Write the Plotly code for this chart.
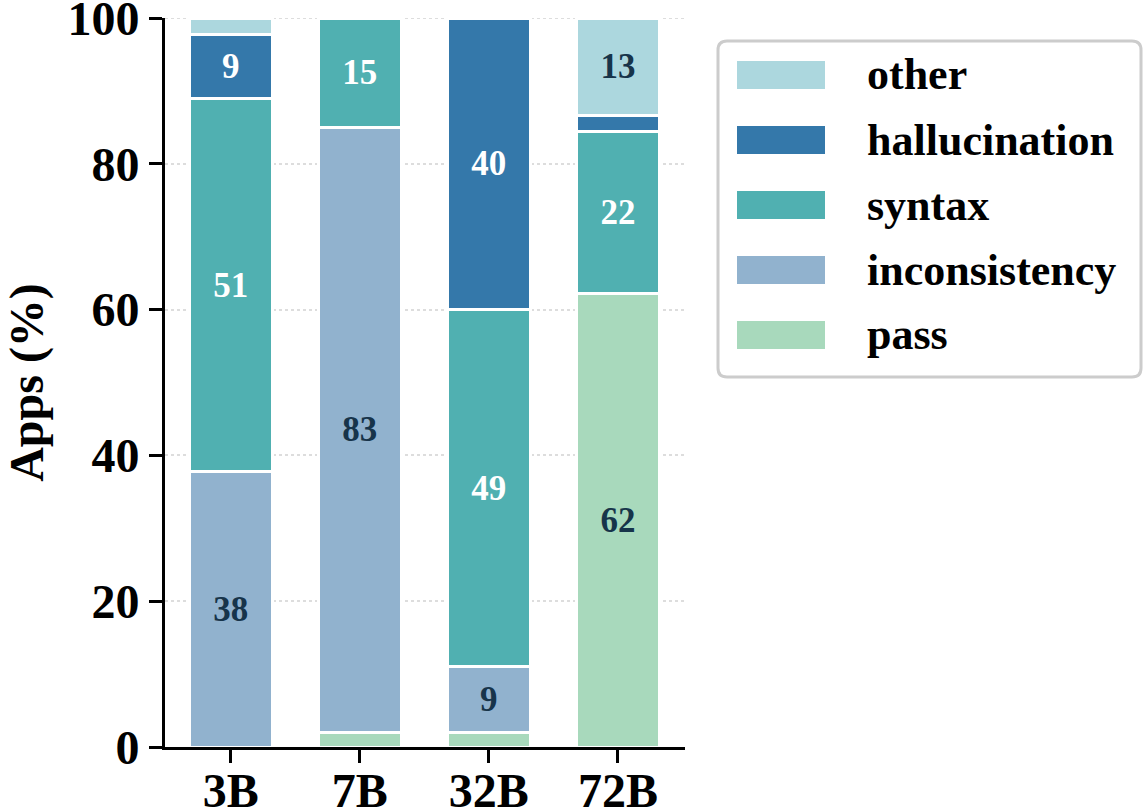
import plotly.graph_objects as go

# ---- data ----
models = ["3B", "7B", "32B", "72B"]
pass_pct = [0.0, 2.0, 2.0, 62.2]
inconsistency_pct = [37.8, 83.0, 9.0, 0.0]
syntax_pct = [51.1, 15.0, 49.0, 22.2]
hallucination_pct = [8.9, 0.0, 40.0, 2.2]
other_pct = [2.2, 0.0, 0.0, 13.4]
y_ticks = [0, 20, 40, 60, 80, 100]

series_names = ["pass", "inconsistency", "syntax", "hallucination", "other"]
series_values = [pass_pct, inconsistency_pct, syntax_pct, hallucination_pct, other_pct]
series_colors = ["#a8d9bc", "#91b2ce", "#50b0b1", "#3478aa", "#acd7de"]
label_colors = ["#17344a", "#17344a", "#ffffff", "#ffffff", "#17344a"]

FONT = "Liberation Serif, Times New Roman, serif"

fig = go.Figure()
for name, vals, col, tcol in zip(series_names, series_values, series_colors, label_colors):
    fig.add_trace(go.Bar(
        x=models, y=vals, name=name,
        marker=dict(color=col, line=dict(color="white", width=3)),
        width=0.64,
        text=[f"{round(v)}" if v >= 5 else "" for v in vals],
        textposition="inside", insidetextanchor="middle", textangle=0,
        constraintext="none",
        textfont=dict(family=FONT, size=35, color=tcol, weight=700),
        showlegend=False,
    ))

# plot area geometry in pixels (for custom legend placement)
W, H = 1145, 811
L, R, T, B = 165, 460, 18, 64
pw, ph = W - L - R, H - T - B

def px(x):
    return (x - L) / pw

def py(y):
    return (H - B - y) / ph

shapes = []
annotations = []
# gridline at the top of the range (plotly omits it at the range edge)
shapes.append(dict(type="line", xref="paper", yref="y", x0=0, x1=1, y0=y_ticks[-1], y1=y_ticks[-1],
                   line=dict(color="#dddddd", width=2, dash="dot"), layer="below"))
# legend box (rounded)
x0, x1, y0, y1, r = 718, 1141, 41, 377, 9
rx, ry = r / pw, r / ph
X0, X1, Y0, Y1 = px(x0), px(x1), py(y0), py(y1)
path = (f"M {X0+rx},{Y0} L {X1-rx},{Y0} Q {X1},{Y0} {X1},{Y0-ry} "
        f"L {X1},{Y1+ry} Q {X1},{Y1} {X1-rx},{Y1} L {X0+rx},{Y1} "
        f"Q {X0},{Y1} {X0},{Y1+ry} L {X0},{Y0-ry} Q {X0},{Y0} {X0+rx},{Y0} Z")
shapes.append(dict(type="path", xref="paper", yref="paper", path=path,
                   line=dict(color="#cccccc", width=3), fillcolor="white", layer="above"))
legend_order = list(range(len(series_names)))[::-1]
for i, idx in enumerate(legend_order):
    top = 61 + 65 * i
    shapes.append(dict(type="rect", xref="paper", yref="paper",
                       x0=px(737), x1=px(825), y0=py(top), y1=py(top + 28),
                       fillcolor=series_colors[idx], line=dict(width=0), layer="above"))
    annotations.append(dict(xref="paper", yref="paper", x=px(865), y=py(top + 14),
                            xanchor="left", yanchor="middle", showarrow=False,
                            text=series_names[idx],
                            font=dict(family=FONT, size=44, color="black", weight=700)))

fig.update_layout(
    barmode="stack",
    width=W, height=H,
    margin=dict(l=L, r=R, t=T, b=B, autoexpand=False),
    plot_bgcolor="white", paper_bgcolor="white",
    font=dict(family=FONT, size=48, color="black", weight=700),
    shapes=shapes, annotations=annotations,
    showlegend=False,
)
fig.update_xaxes(
    range=[-0.51, 3.52], showline=True, linecolor="black", linewidth=3,
    ticks="outside", ticklen=13, tickwidth=3, tickcolor="black",
    tickfont=dict(family=FONT, size=48, color="black", weight=700),
    ticklabelstandoff=-14, ticklabeloverflow="allow",
    showgrid=False, zeroline=False, automargin=False,
)
fig.update_yaxes(
    range=[0, 100], tickvals=y_ticks,
    showline=True, linecolor="black", linewidth=3,
    ticks="outside", ticklen=13, tickwidth=3, tickcolor="black",
    tickfont=dict(family=FONT, size=48, color="black", weight=700),
    ticklabeloverflow="allow",
    showgrid=True, gridcolor="#dddddd", gridwidth=2, griddash="dot",
    zeroline=False, automargin=False,
    title=dict(text="Apps (%)", font=dict(family=FONT, size=48, color="black", weight=700), standoff=10),
)

fig.write_html("out.html")
